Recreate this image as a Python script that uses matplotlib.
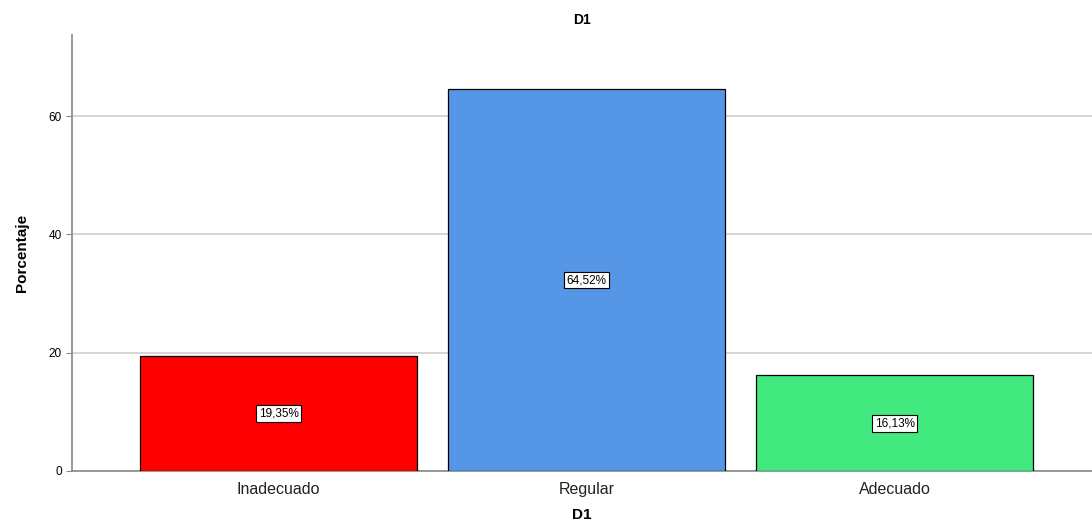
import matplotlib
matplotlib.use("Agg")
import matplotlib.pyplot as plt

categories = ["Inadecuado", "Regular", "Adecuado"]
percentages = [19.35, 64.52, 16.13]
bar_colors = ["#FF0000", "#5596E6", "#41E97E"]
y_ticks = [0, 20, 40, 60]

plt.rcParams['font.family'] = ['Liberation Sans', 'DejaVu Sans']

fig = plt.figure(figsize=(10.92, 5.32), dpi=100)
ax = fig.add_axes([0.066, 0.115, 0.934, 0.819])

x = range(len(categories))
ax.bar(x, percentages, width=0.9, color=bar_colors, edgecolor="black",
       linewidth=0.9, zorder=3)

for i, v in enumerate(percentages):
    ax.text(i, v / 2, ("%.2f%%" % v).replace(".", ","), ha="center",
            va="center", fontsize=8.5, zorder=4,
            bbox=dict(boxstyle="square,pad=0.2", facecolor="white",
                      edgecolor="black", linewidth=0.8))

ax.set_xlim(-0.67, 2.64)
ax.set_ylim(0, 73.7)
ax.set_yticks(y_ticks)
ax.set_xticks(list(x))
ax.set_xticklabels(categories, fontsize=11.5, color="#222222")
ax.tick_params(axis="y", labelsize=8.5, length=4, color="#888888")
ax.tick_params(axis="x", length=0, pad=8)
ax.yaxis.grid(True, color="#D0D0D0", linewidth=1.2, zorder=0)

for s in ["top", "right"]:
    ax.spines[s].set_visible(False)
for s in ["left", "bottom"]:
    ax.spines[s].set_color("#888888")
    ax.spines[s].set_linewidth(1.2)

ax.set_title("D1", fontsize=10, fontweight="bold", pad=8)
ax.set_xlabel("D1", fontsize=11, fontweight="bold", labelpad=8)
ax.set_ylabel("Porcentaje", fontsize=11, fontweight="bold", labelpad=14)

fig.savefig("out.png", dpi=100)
